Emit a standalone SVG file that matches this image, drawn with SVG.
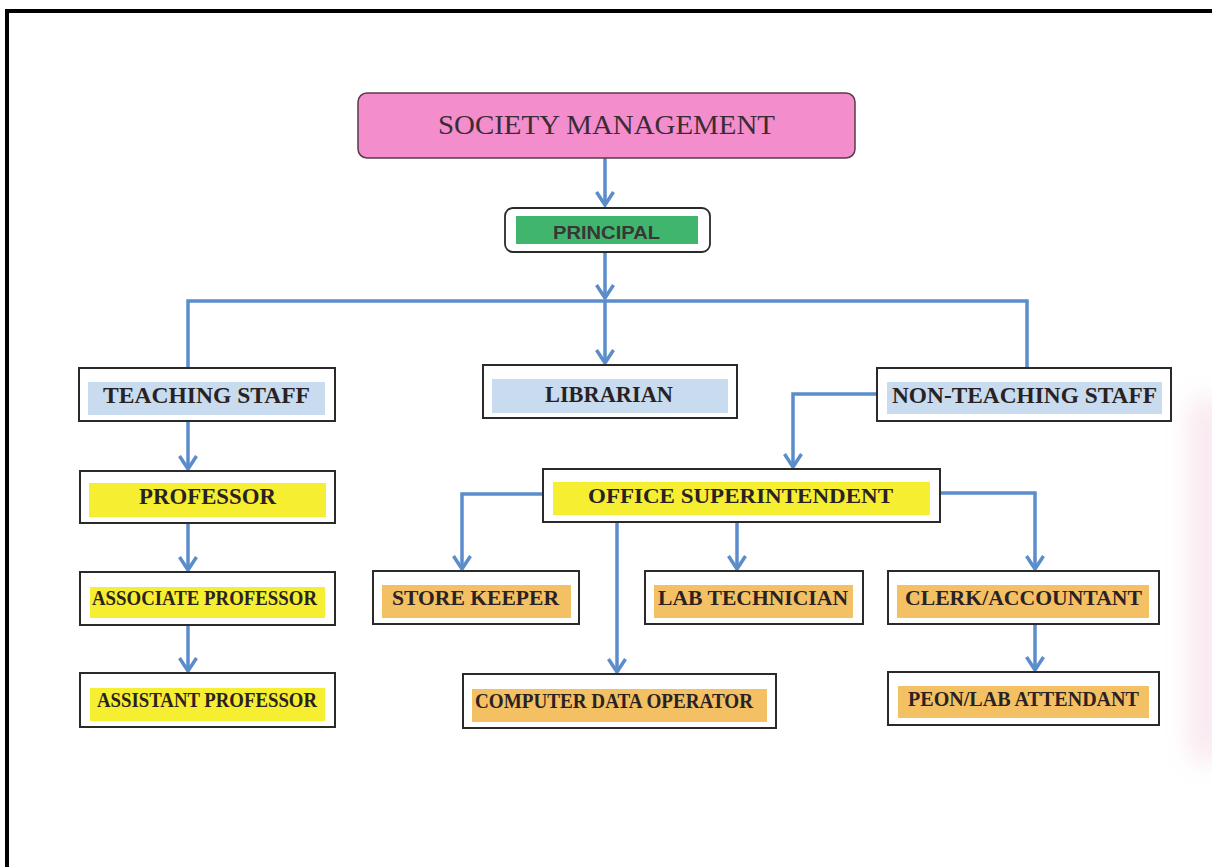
<svg xmlns="http://www.w3.org/2000/svg" width="1212" height="867" viewBox="0 0 1212 867">
<style>
.box{fill:#ffffff;stroke:#2a2a2a;stroke-width:2}
.blue{fill:#c9dbee}
.yel{fill:#f6ee30}
.org{fill:#f4c064}
.lbl{font-family:"Liberation Serif","Times New Roman",serif;font-weight:bold;fill:#2a2222;text-anchor:start}
.con{fill:none;stroke:#5b8dcb;stroke-width:3.5;stroke-linejoin:miter}
.arr{marker-end:url(#ah)}
</style>
<defs>
<marker id="ah" markerUnits="userSpaceOnUse" viewBox="-16 -11 18 22" markerWidth="18" markerHeight="22" refX="0" refY="0" orient="auto">
<path d="M-13,-8.5 L0,0 L-13,8.5" fill="none" stroke="#5b8dcb" stroke-width="3.5" stroke-linejoin="miter"/>
</marker>
<filter id="soft" x="-1" y="-0.3" width="3" height="1.6">
<feGaussianBlur stdDeviation="14"/>
</filter>
</defs>
<rect x="0" y="0" width="1212" height="867" fill="#ffffff"/>
<rect x="1192" y="400" width="30" height="360" fill="#f4d8e4" opacity="0.7" filter="url(#soft)"/>
<path d="M7,867 L7,11 L1212,11" fill="none" stroke="#000" stroke-width="4"/>

<g id="connectors">
<path class="con arr" d="M605,158 L605,205"/>
<path class="con arr" d="M605,252 L605,298"/>
<path class="con" d="M188,368 L188,301 L1027,301 L1027,368"/>
<path class="con arr" d="M605,301 L605,363"/>
<path class="con arr" d="M188,421 L188,469"/>
<path class="con arr" d="M188,523 L188,570"/>
<path class="con arr" d="M188,625 L188,671"/>
<path class="con arr" d="M877,394 L793,394 L793,467"/>
<path class="con arr" d="M543,494 L462,494 L462,569"/>
<path class="con arr" d="M617,522 L617,672"/>
<path class="con arr" d="M737,522 L737,569"/>
<path class="con arr" d="M940,493 L1035,493 L1035,569"/>
<path class="con arr" d="M1035,624 L1035,670"/>
</g>

<g id="society">
<rect x="358" y="93" width="497" height="65" rx="9" fill="#f38dcb" stroke="#5a3a4a" stroke-width="1.5"/>
<text x="438" y="134" font-family="'Liberation Serif','Times New Roman',serif" font-size="28" fill="#3a2c34" textLength="337" lengthAdjust="spacingAndGlyphs">SOCIETY MANAGEMENT</text>
</g>

<g id="principal">
<rect x="505" y="208" width="205" height="44" rx="8" fill="#ffffff" stroke="#2a2a2a" stroke-width="1.8"/>
<rect x="516" y="216" width="182" height="28" fill="#3fb56e"/>
<text x="553" y="239" font-family="'Liberation Sans',Arial,sans-serif" font-weight="bold" font-size="19" fill="#3a3636" textLength="107" lengthAdjust="spacingAndGlyphs">PRINCIPAL</text>
</g>

<g id="teaching">
<rect class="box" x="79" y="368" width="256" height="53"/>
<rect class="blue" x="88" y="382" width="237" height="33"/>
<text class="lbl" x="103" y="403" font-size="24" textLength="207" lengthAdjust="spacingAndGlyphs">TEACHING STAFF</text>
</g>

<g id="librarian">
<rect class="box" x="483" y="365" width="254" height="53"/>
<rect class="blue" x="492" y="379" width="236" height="34"/>
<text class="lbl" x="545" y="402" font-size="23" textLength="128" lengthAdjust="spacingAndGlyphs">LIBRARIAN</text>
</g>

<g id="nonteaching">
<rect class="box" x="877" y="368" width="294" height="53"/>
<rect class="blue" x="887" y="382" width="275" height="32"/>
<text class="lbl" x="892" y="403" font-size="23" textLength="265" lengthAdjust="spacingAndGlyphs">NON-TEACHING STAFF</text>
</g>

<g id="professor">
<rect class="box" x="80" y="471" width="255" height="52"/>
<rect class="yel" x="89" y="483" width="237" height="34"/>
<text class="lbl" x="139" y="504" font-size="23" textLength="137" lengthAdjust="spacingAndGlyphs">PROFESSOR</text>
</g>

<g id="associate">
<rect class="box" x="80" y="572" width="255" height="53"/>
<rect class="yel" x="90" y="587" width="235" height="31"/>
<text class="lbl" x="92" y="605" font-size="20" textLength="225" lengthAdjust="spacingAndGlyphs">ASSOCIATE PROFESSOR</text>
</g>

<g id="assistant">
<rect class="box" x="80" y="673" width="255" height="54"/>
<rect class="yel" x="90" y="688" width="235" height="33"/>
<text class="lbl" x="97" y="707" font-size="20" textLength="220" lengthAdjust="spacingAndGlyphs">ASSISTANT PROFESSOR</text>
</g>

<g id="office">
<rect class="box" x="543" y="469" width="397" height="53"/>
<rect class="yel" x="553" y="482" width="377" height="33"/>
<text class="lbl" x="588" y="503" font-size="22" textLength="305" lengthAdjust="spacingAndGlyphs">OFFICE SUPERINTENDENT</text>
</g>

<g id="storekeeper">
<rect class="box" x="373" y="571" width="206" height="53"/>
<rect class="org" x="382" y="585" width="189" height="33"/>
<text class="lbl" x="392" y="605" font-size="22" textLength="167" lengthAdjust="spacingAndGlyphs">STORE KEEPER</text>
</g>

<g id="labtech">
<rect class="box" x="645" y="571" width="218" height="53"/>
<rect class="org" x="654" y="585" width="199" height="33"/>
<text class="lbl" x="658" y="605" font-size="22" textLength="190" lengthAdjust="spacingAndGlyphs">LAB TECHNICIAN</text>
</g>

<g id="clerk">
<rect class="box" x="888" y="571" width="271" height="53"/>
<rect class="org" x="897" y="585" width="252" height="33"/>
<text class="lbl" x="905" y="605" font-size="21" textLength="237" lengthAdjust="spacingAndGlyphs">CLERK/ACCOUNTANT</text>
</g>

<g id="computer">
<rect class="box" x="463" y="674" width="313" height="54"/>
<rect class="org" x="472" y="689" width="295" height="33"/>
<text class="lbl" x="475" y="708" font-size="20" textLength="278" lengthAdjust="spacingAndGlyphs">COMPUTER DATA OPERATOR</text>
</g>

<g id="peon">
<rect class="box" x="888" y="672" width="271" height="53"/>
<rect class="org" x="898" y="686" width="251" height="32"/>
<text class="lbl" x="908" y="706" font-size="20" textLength="231" lengthAdjust="spacingAndGlyphs">PEON/LAB ATTENDANT</text>
</g>
</svg>
